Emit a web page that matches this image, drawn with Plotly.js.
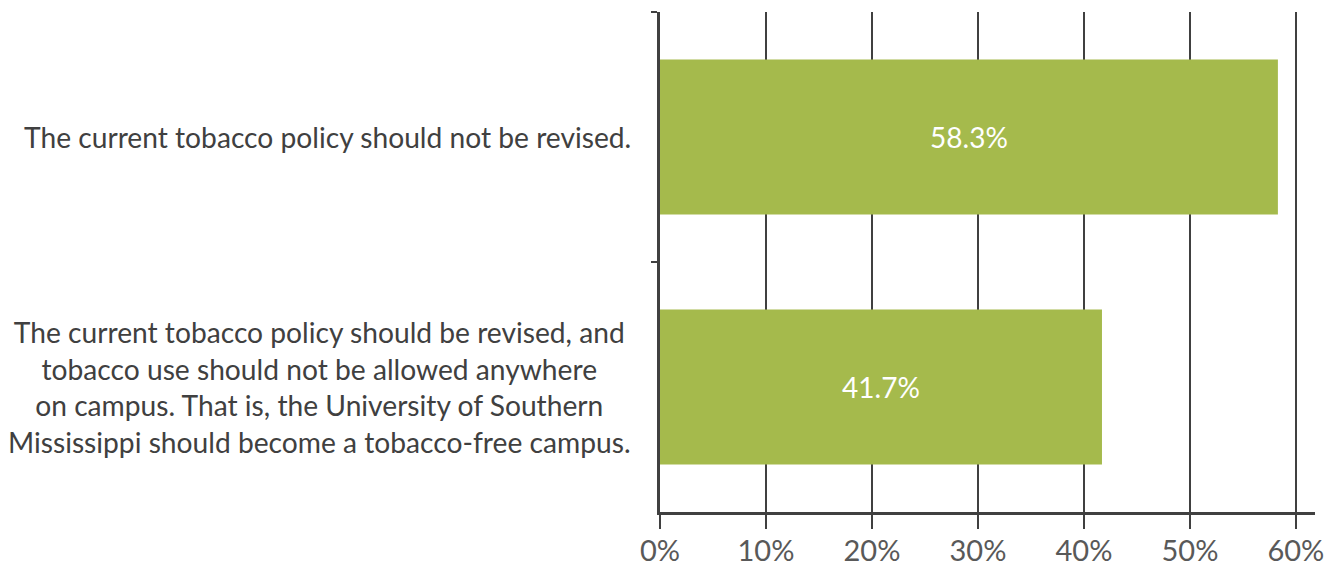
<!DOCTYPE html>
<html>
<head>
<meta charset="utf-8">
<script src="https://cdn.plot.ly/plotly-3.0.1.min.js"></script>
<style>
  html, body { margin: 0; padding: 0; background: #ffffff; }
  #chart { width: 1342px; height: 568px; }
</style>
</head>
<body>
<div id="chart"></div>
<script>
const categories = [
  "The current tobacco policy should not be revised.",
  "The current tobacco policy should be revised, and<br>tobacco use should not be allowed anywhere<br>on campus. That is, the University of Southern<br>Mississippi should become a tobacco-free campus."
];
const values = [0.583, 0.417];
const xTickValues = [0, 0.1, 0.2, 0.3, 0.4, 0.5, 0.6];
const xTickLabels = ["0%", "10%", "20%", "30%", "40%", "50%", "60%"];

const FONT = "Lato, 'Open Sans', sans-serif";
const DARK = "#404040";

const trace = {
  type: "bar",
  orientation: "h",
  x: values,
  y: categories,
  width: 0.62,
  marker: { color: "#A5BA4C" },
  texttemplate: "%{x:.1%}",
  textposition: "inside",
  insidetextanchor: "middle",
  textangle: 0,
  textfont: { family: FONT, size: 28, color: "#ffffff" },
  hoverinfo: "skip"
};

const annotations = categories.map(c => ({
  xref: "paper", yref: "y",
  x: 0, y: c,
  xanchor: "right", yanchor: "middle",
  xshift: -27,
  align: "center",
  text: c,
  showarrow: false,
  font: { family: FONT, size: 28.2, color: DARK }
}));

const layout = {
  width: 1342, height: 568,
  margin: { l: 660, r: 27, t: 12, b: 56, pad: 0 },
  paper_bgcolor: "#ffffff",
  plot_bgcolor: "#ffffff",
  showlegend: false,
  bargap: 0.38,
  xaxis: {
    range: [0, 0.618],
    tickvals: xTickValues,
    ticktext: xTickLabels,
    showgrid: true,
    gridcolor: DARK,
    gridwidth: 2,
    zeroline: false,
    showline: true,
    linecolor: DARK,
    linewidth: 3,
    ticks: "outside",
    ticklen: 14,
    tickwidth: 2,
    tickcolor: DARK,
    ticklabelstandoff: -3,
    tickfont: { family: FONT, size: 29, color: "#595959" },
    fixedrange: true
  },
  yaxis: {
    type: "category",
    categoryorder: "array",
    categoryarray: categories,
    autorange: "reversed",
    showgrid: false,
    zeroline: false,
    showline: true,
    linecolor: DARK,
    linewidth: 3,
    showticklabels: false,
    ticks: "outside",
    tickson: "boundaries",
    ticklen: 6,
    tickwidth: 2,
    tickcolor: DARK,
    fixedrange: true
  },
  annotations: annotations
};

Plotly.newPlot("chart", [trace], layout, { displayModeBar: false, staticPlot: true });
</script>
</body>
</html>
